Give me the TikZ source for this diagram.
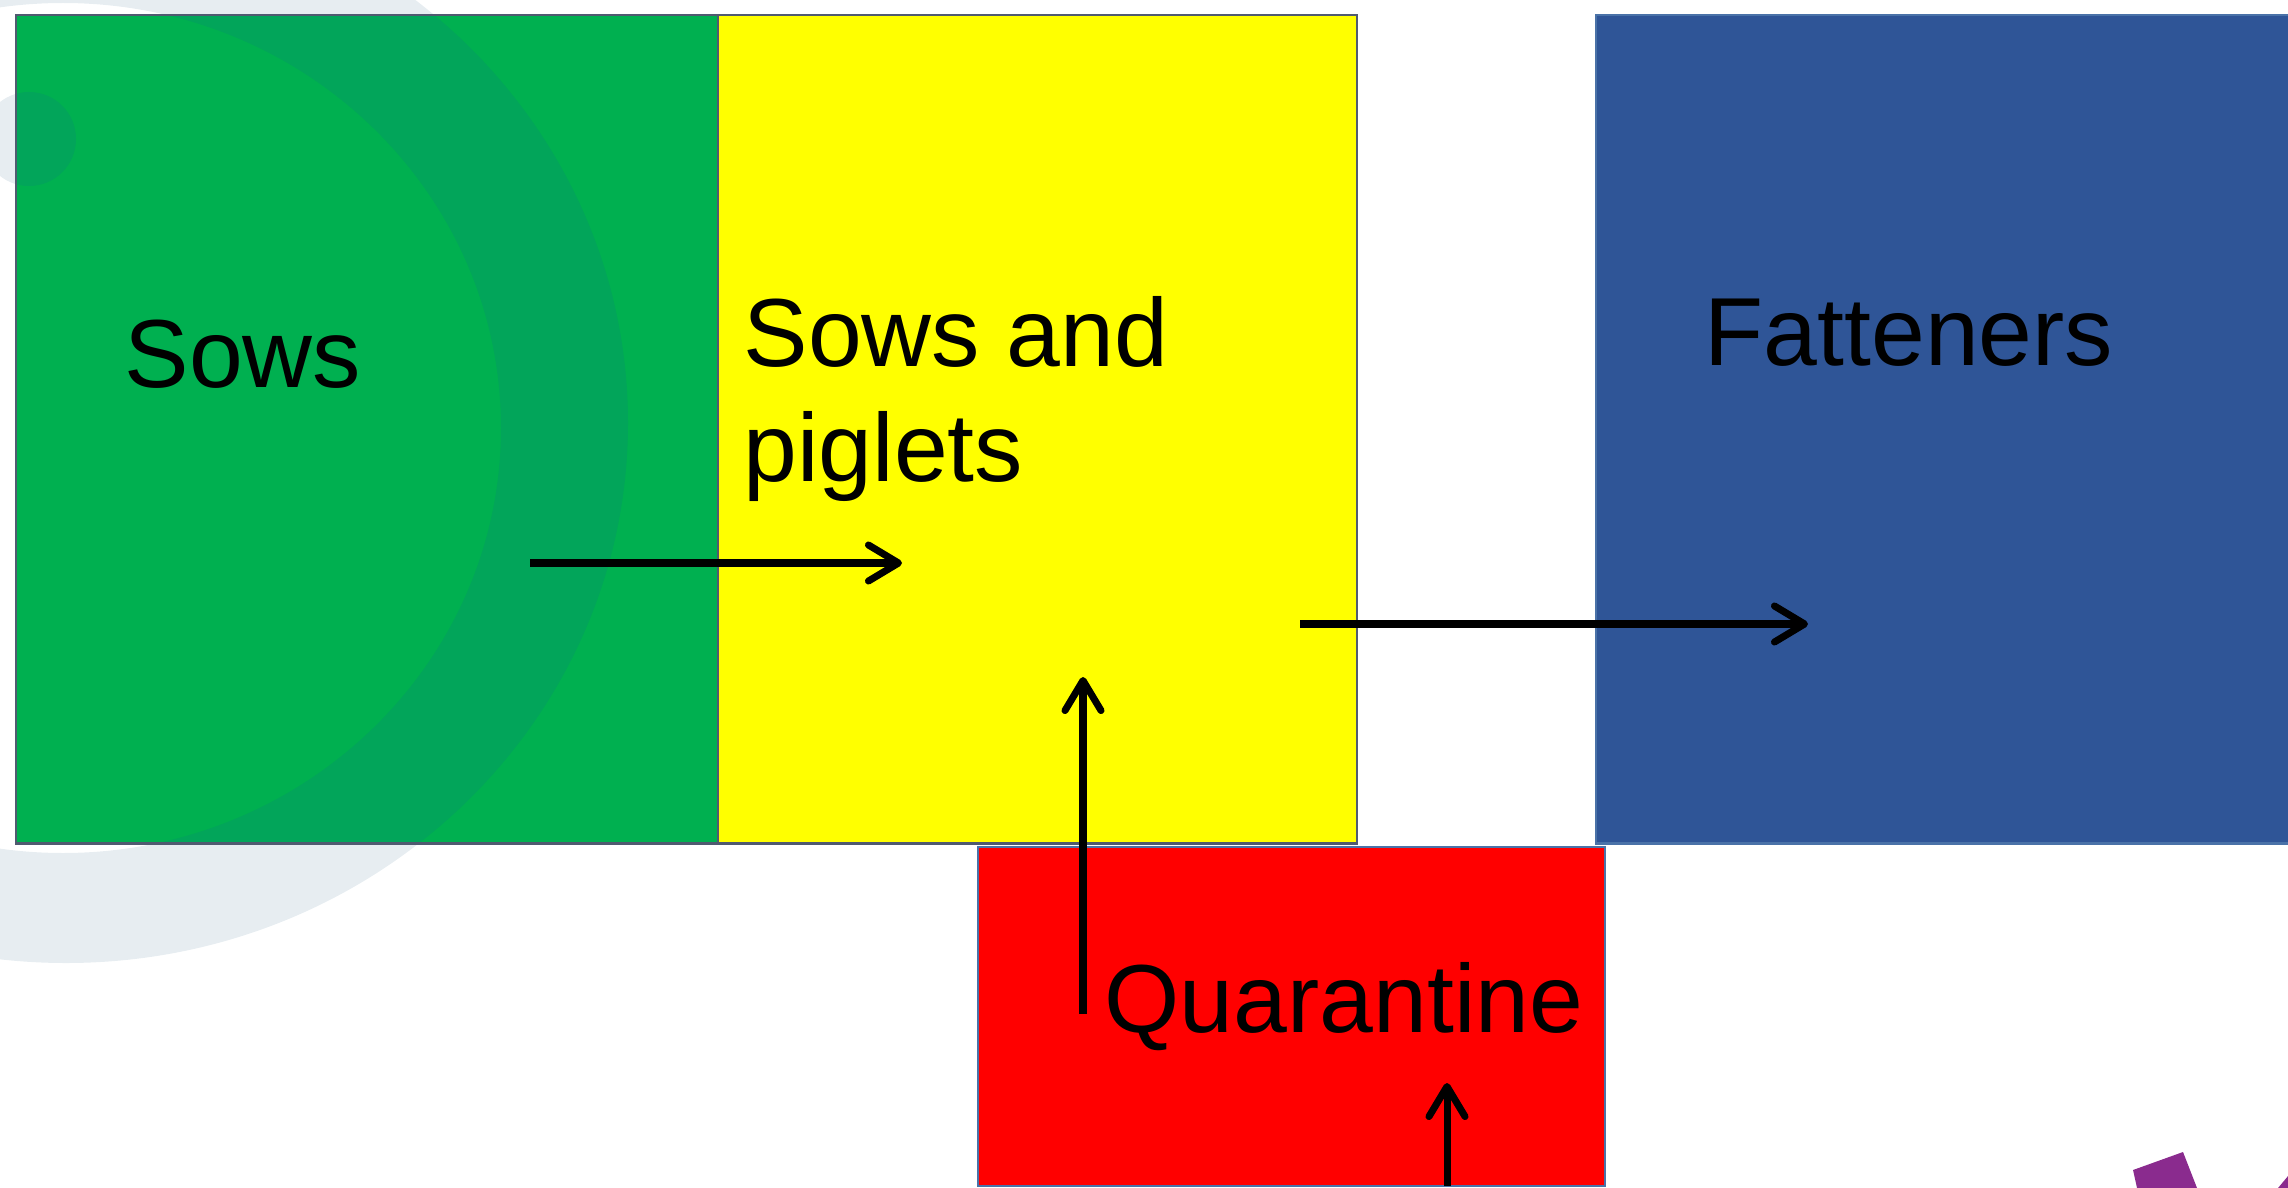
\documentclass[tikz,border=0pt]{standalone}
\usepackage{fontspec}
\setmainfont{Liberation Sans}
\usetikzlibrary{arrows.meta}
\definecolor{ringgray}{HTML}{E7EDF1}
\definecolor{pengreen}{HTML}{00B050}
\definecolor{ringgreen}{HTML}{02A55A}
\definecolor{penyellow}{HTML}{FFFF00}
\definecolor{penblue}{HTML}{2F5597}
\definecolor{penred}{HTML}{FF0000}
\definecolor{edgedark}{HTML}{505A70}
\definecolor{edgeblue}{HTML}{4A72A8}
\definecolor{logopurple}{HTML}{8A2B8E}
\tikzset{
  pen/.style={draw=edgedark, line width=0.6pt, inner sep=0pt, outer sep=0pt, anchor=north west},
  label text/.style={font=\fontsize{27.5}{32.5}\selectfont, inner sep=0pt, anchor=base west, align=left},
  flow/.style={line width=2pt, -{Straight Barb[length=0.3cm, width=0.36cm, line width=2pt, round]}}
}
\begin{document}
\begin{tikzpicture}[x=0.01cm, y=-0.01cm]
\useasboundingbox (0,0) rectangle (2288,1188);
% faint background ring and dot
\fill[ringgray, even odd rule] (66,423) ellipse [x radius=562, y radius=540]
                               (63,428) ellipse [x radius=438, y radius=425];
\fill[ringgray] (29,139) circle (47);
% pens
\node (sowsbox) [pen, fill=pengreen, minimum width=7.02cm, minimum height=8.28cm] at (16,15) {};
\begin{scope}
  \clip (16,15) rectangle (718,843);
  \fill[ringgreen, even odd rule] (66,423) ellipse [x radius=562, y radius=540]
                                  (63,428) ellipse [x radius=438, y radius=425];
  \fill[ringgreen] (29,139) circle (47);
\end{scope}
\draw[edgedark, line width=0.6pt] (sowsbox.north west) rectangle (sowsbox.south east);
\node (pigbox) [pen, fill=penyellow, minimum width=6.39cm, minimum height=8.28cm] at (718,15) {};
\node (fatbox) [pen, draw=edgeblue, fill=penblue, minimum width=7.1cm, minimum height=8.28cm] at (1596,15) {};
\node (quarbox) [pen, draw=edgeblue, fill=penred, minimum width=6.27cm, minimum height=3.39cm] at (978,847) {};
% labels
\node (sows) [label text] at (124,387) {Sows};
\node (piglets) [label text] at (743,481) {Sows and\\piglets};
\node (fat) [label text] at (1704,365) {Fatteners};
\node (quar) [label text] at (1104,1032) {Quarantine};
% movements between pens
\coordinate (a1) at (530,563);  \coordinate (b1) at (902,563);
\coordinate (a2) at (1300,624); \coordinate (b2) at (1808,624);
\coordinate (a3) at (1083,1014); \coordinate (b3) at (1083,677);
\coordinate (a4) at (1447,1186); \coordinate (b4) at (1447,1083);
\draw[flow] (a1) -- (b1);
\draw[flow] (a2) -- (b2);
\draw[flow] (a3) -- (b3);
\draw[flow] (a4) -- (b4);
% corner of a logo
\fill[logopurple] (2133,1170) -- (2183,1152) -- (2197,1188) -- (2137,1188) -- cycle;
\fill[logopurple] (2278,1188) -- (2288,1176) -- (2288,1188) -- cycle;
\end{tikzpicture}
\end{document}
